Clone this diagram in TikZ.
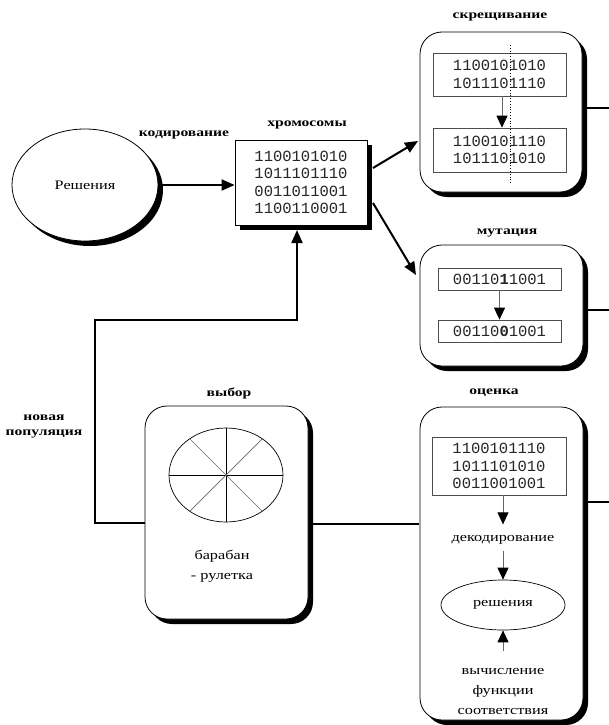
\documentclass[tikz,border=0pt]{standalone}
\usepackage{fontspec}
\setmainfont{Liberation Serif}
\newfontfamily\txtfont{Liberation Serif}[FakeStretch=1.25]
\newfontfamily\lblfont{Liberation Serif}[UprightFont=* Bold,FakeStretch=1.3]
\newfontfamily\binfont{Liberation Mono}
\usetikzlibrary{arrows.meta,shapes.geometric,shadows}
\tikzset{
  shd/.style={drop shadow={shadow xshift=5pt,shadow yshift=-5pt,fill=black,opacity=1}},
  chrombox/.style={draw,line width=0.8pt,fill=white,inner sep=0pt,shd},
  roundbox/.style={draw,line width=0.8pt,fill=white,rounded corners=22pt,inner sep=0pt,shd},
  innerbox/.style={draw=black!70,line width=0.7pt,fill=white,inner sep=0pt},
  lbl/.style={font=\lblfont\fontsize{12}{15}\selectfont,align=center,inner sep=0pt},
  txt/.style={font=\txtfont\fontsize{13}{20}\selectfont,align=center,inner sep=0pt},
  bin/.style={font=\binfont\fontsize{15.5}{17.5}\selectfont,align=center,text=black!85},
  conn/.style={line width=2pt},
  bigtip/.style={-{Triangle[length=13pt,width=11pt]}},
  smalltip/.style={draw=black!60,line width=1pt,-{Triangle[length=12pt,width=11pt,fill=black,color=black]}},
}
\begin{document}
\begin{tikzpicture}[x=1pt,y=-1pt]
\useasboundingbox (0,0) rectangle (609,725);

% solutions ellipse
\node[ellipse,draw,line width=0.8pt,fill=white,shd,minimum width=146pt,minimum height=112pt,inner sep=0pt,txt] (sol) at (85,185) {Решения};

% chromosomes
\node[chrombox,minimum width=132pt,minimum height=85pt,bin] (chrom) at (301,182.5) {1100101010\\1011101110\\0011011001\\1100110001};
\node[lbl] (lchrom) at (307,125) {хромосомы};
\node[lbl] (lcod) at (184,135) {кодирование};

% crossover
\node[roundbox,minimum width=162pt,minimum height=160pt] (cross) at (501,112) {};
\node[lbl] (lcross) at (500,17) {скрещивание};
\node[innerbox,minimum width=133pt,minimum height=43pt,bin] (ct) at (499.5,74.5) {1100101010\\1011101110};
\node[innerbox,minimum width=133pt,minimum height=44pt,bin] (cb) at (499.5,150) {1100101110\\1011101010};
\coordinate (dtop) at (510,45);
\coordinate (dbot) at (510,184);
\draw[dotted,line width=0.8pt] (dtop) -- (dbot);
\draw[smalltip] (ct.south -| 502,0) -- (cb.north -| 502,0);

% mutation
\node[roundbox,minimum width=163pt,minimum height=121pt] (mut) at (501.5,305.5) {};
\node[lbl] (lmut) at (507,233) {мутация};
\node[innerbox,minimum width=123pt,minimum height=22pt,bin] (mt) at (499.5,279) {00110\textbf{1}1001};
\node[innerbox,minimum width=123pt,minimum height=22pt,bin] (mb) at (499.5,331) {00110\textbf{0}1001};
\draw[smalltip] (mt) -- (mb);

% selection
\node[roundbox,minimum width=163pt,minimum height=213pt] (sel) at (226.5,512.5) {};
\node[lbl] (lsel) at (229,393) {выбор};
\node[ellipse,draw,line width=0.7pt,minimum width=114pt,minimum height=94pt,inner sep=0pt] (wheel) at (226,475) {};
\draw[line width=0.7pt] (wheel.north) -- (wheel.south);
\draw[line width=0.7pt] (wheel.west) -- (wheel.east);
\draw[line width=0.7pt,black!60] (wheel.45) -- (wheel.225);
\draw[line width=0.7pt,black!60] (wheel.135) -- (wheel.315);
\node[txt] (drum) at (222,566) {барабан\\- рулетка};

% evaluation
\node[roundbox,minimum width=163pt,minimum height=313pt] (eval) at (501.5,563.5) {};
\node[lbl] (leval) at (494,393) {оценка};
\node[innerbox,minimum width=134pt,minimum height=58pt,bin] (et) at (499,466) {1100101110\\1011101010\\0011001001};
\node[txt] (dec) at (503,540) {декодирование};
\node[ellipse,draw,line width=0.7pt,minimum width=124pt,minimum height=50pt,inner sep=0pt,txt] (res) at (503,605) {решения};
\node[txt] (fit) at (503,691) {вычисление\\функции\\соответствия};
\draw[smalltip] (et.south -| dec.north) -- ++(0,29);
\draw[smalltip] (dec.south) ++(0,6) -- (res.north);
\coordinate (fitarr) at (503,651);
\draw[smalltip] (fitarr) -- (res.south);

% new population label
\node[lbl] (lnew) at (44,426) {новая\\популяция};

% connectors
\draw[conn,bigtip] (sol.east) -- (chrom.west |- sol.east);
\coordinate (c1) at (373,168);
\coordinate (c2) at (373,203);
\coordinate (x1) at (418,141);
\coordinate (m1) at (416,275);
\draw[conn,bigtip] (c1) -- (x1);
\draw[conn,bigtip] (c2) -- (m1);
\coordinate (fb1) at (95,523);
\coordinate (fb2) at (95,320);
\coordinate (fb3) at (297,320);
\coordinate (chb) at (297,230);
\draw[conn,bigtip] (sel.west |- fb1) -- (fb1) -- (fb2) -- (fb3) -- (chb);
\coordinate (s1) at (313,524);
\coordinate (e1) at (419,524);
\draw[conn] (s1) -- (e1);
\coordinate (r1) at (587,108);
\coordinate (r1e) at (609,108);
\coordinate (r2) at (588,310);
\coordinate (r2e) at (609,310);
\coordinate (r3) at (588,502);
\coordinate (r3e) at (609,502);
\draw[conn] (r1) -- (r1e);
\draw[conn] (r2) -- (r2e);
\draw[conn] (r3) -- (r3e);
\end{tikzpicture}
\end{document}
